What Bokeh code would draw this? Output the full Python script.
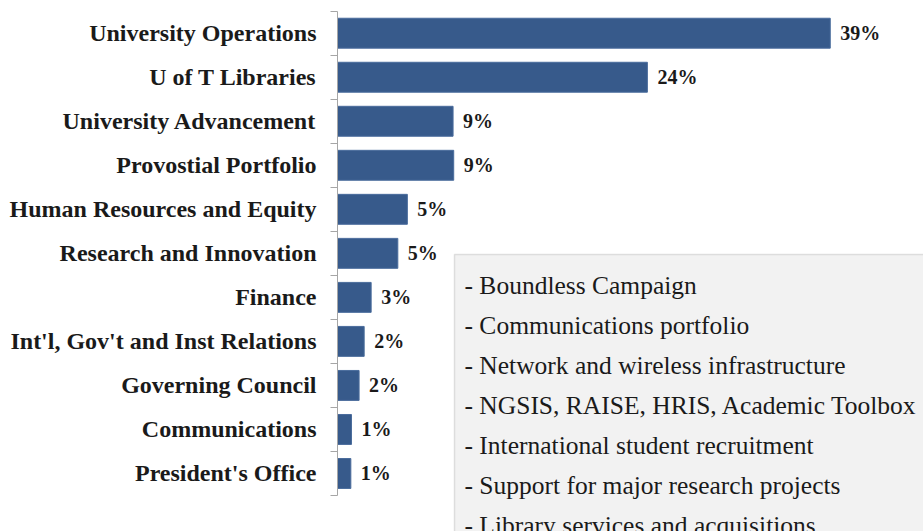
from bokeh.plotting import figure
from bokeh.models import (ColumnDataSource, Range1d, FixedTicker, BoxAnnotation, Label)
from bokeh.core.properties import value
from bokeh.embed import file_html
from bokeh.resources import INLINE

categories = ["University Operations", "U of T Libraries", "University Advancement",
              "Provostial Portfolio", "Human Resources and Equity", "Research and Innovation",
              "Finance", "Int'l, Gov't and Inst Relations", "Governing Council",
              "Communications", "President's Office"]
shares = [38.8, 24.4, 9.1, 9.15, 5.5, 4.75, 2.65, 2.1, 1.7, 1.1, 1.05]
share_labels = ["39%", "24%", "9%", "9%", "5%", "5%", "3%", "2%", "2%", "1%", "1%"]
notes = ["- Boundless Campaign", "- Communications portfolio",
         "- Network and wireless infrastructure", "- NGSIS, RAISE, HRIS, Academic Toolbox",
         "- International student recruitment", "- Support for major research projects",
         "- Library services and acquisitions"]

n = len(categories)
idx = list(range(n))
src = ColumnDataSource(dict(y=idx, v=shares, lab=share_labels))

W, H = 923, 531
LEFT = 337
row_px = (495 - 10.7) / n
y_top = -0.5 - 10.7 / row_px
y_bot = (n - 0.5) + (H - 495) / row_px

p = figure(width=W, height=H, output_backend="svg", toolbar_location=None,
           x_range=Range1d(0, (W - LEFT) / 12.70), y_range=Range1d(y_bot, y_top),
           min_border_left=LEFT, min_border_right=0, min_border_top=0, min_border_bottom=0)
p.background_fill_color = "white"
p.border_fill_color = "white"
p.outline_line_color = None
p.grid.visible = False
p.xaxis.visible = False

p.hbar(y="y", right="v", left=0, height=0.68, source=src,
       fill_color="#375A8B", line_color="#4A6C9C", line_width=1)

p.text(x="v", y="y", text="lab", source=src, x_offset=10,
       text_align="left", text_baseline="middle",
       text_font=value("Liberation Serif"), text_font_style="bold",
       text_font_size="20px", text_color="#1a1a1a")

ya = p.yaxis[0]
ya.bounds = (-0.5, n - 0.5)
ya.ticker = FixedTicker(ticks=idx, minor_ticks=[i - 0.5 for i in range(n + 1)])
ya.major_label_overrides = {i: c for i, c in enumerate(categories)}
ya.major_tick_line_color = None
ya.major_tick_out = 0
ya.major_tick_in = 0
ya.minor_tick_out = 7
ya.minor_tick_in = 0
ya.minor_tick_line_color = "#A6A6A6"
ya.axis_line_color = "#A6A6A6"
ya.major_label_standoff = 14
ya.major_label_text_font = "Liberation Serif"
ya.major_label_text_font_style = "bold"
ya.major_label_text_font_size = "24px"
ya.major_label_text_color = "#1a1a1a"

box = BoxAnnotation(left=454, right=1200, top=254, bottom=1200,
                    left_units="canvas", right_units="canvas",
                    top_units="canvas", bottom_units="canvas",
                    fill_color="#F2F2F2", fill_alpha=1.0,
                    line_color="#A0A0A0", line_width=1.5, level="overlay")
p.add_layout(box)

for i, t in enumerate(notes):
    p.add_layout(Label(x=464, y=285 + 40 * i, x_units="canvas", y_units="canvas",
                       text=t, text_align="left", text_baseline="alphabetic",
                       text_font="Liberation Serif", text_font_size="25.5px",
                       text_color="#1a1a1a", level="overlay"))

open("out.html", "w").write(file_html(p, INLINE))
